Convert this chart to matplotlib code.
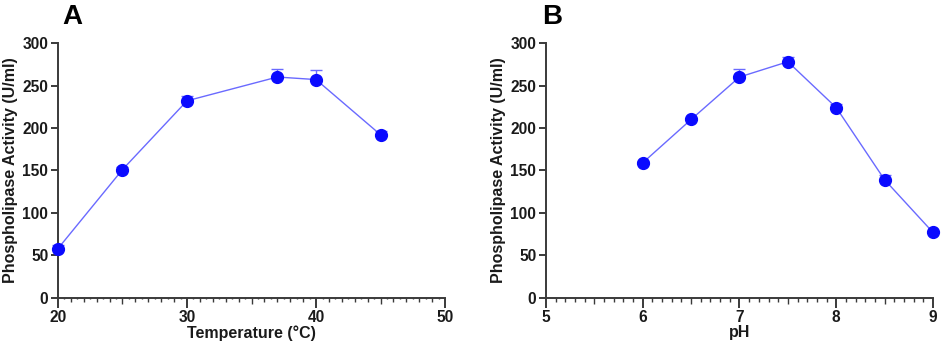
import matplotlib
matplotlib.use("Agg")
import matplotlib.pyplot as plt
from matplotlib.ticker import MultipleLocator
import numpy as np

plt.rcParams['font.family'] = ['Liberation Sans', 'DejaVu Sans']
plt.rcParams['font.weight'] = 'bold'

# Panel A: temperature
temp = [20, 25, 30, 37, 40, 45]
temp_activity = [58, 151, 232, 260, 257, 192]
temp_err = [4, 3, 6, 10, 11, 4]

# Panel B: pH
ph = [6, 6.5, 7, 7.5, 8, 8.5, 9]
ph_activity = [159, 210, 260, 278, 224, 139, 77]
ph_err = [2, 2, 10, 5, 4, 6, 2]

ylabel = "Phospholipase Activity (U/ml)"
yticks = [0, 50, 100, 150, 200, 250, 300]

fig = plt.figure(figsize=(9.41, 3.5), dpi=100)
axA = fig.add_axes([0.0616, 0.149, 0.4114, 0.728])
axB = fig.add_axes([0.5802, 0.149, 0.4113, 0.728])

marker_col = '#0a0aff'
line_col = '#6a6aff'
spine_col = '#3a3a3a'


def draw_ticks(ax, xmin, xmax, major, medium, minor, tiny):
    trans = ax.get_xaxis_transform()
    h_px = ax.bbox.height
    def seg(v, L):
        ax.plot([v, v], [0, -L / h_px], transform=trans, color=spine_col,
                lw=1.0, clip_on=False, solid_capstyle='butt')
    for v in np.arange(xmin, xmax + 1e-9, tiny):
        r = lambda s: abs(round(v / s) * s - v) < 1e-6
        if r(major):
            continue
        elif r(medium):
            seg(v, 6)
        elif r(minor):
            seg(v, 4)
        else:
            seg(v, 1.5)


for ax, x, y, e, lims, xl in [
    (axA, temp, temp_activity, temp_err, (20, 50, 10, 5, 1, 0.5), "Temperature (\u00b0C)"),
    (axB, ph, ph_activity, ph_err, (5, 9, 1, 0.5, 0.1, 0.1), "pH"),
]:
    xmin, xmax, major, medium, minor, tiny = lims
    for s in ['top', 'right']:
        ax.spines[s].set_visible(False)
    for s in ['left', 'bottom']:
        ax.spines[s].set_color(spine_col)
        ax.spines[s].set_linewidth(1.4)
    ax.set_ylim(0, 300)
    ax.set_yticks(yticks)
    ax.set_xlim(xmin, xmax)
    ax.xaxis.set_major_locator(MultipleLocator(major))
    ax.xaxis.set_minor_locator(plt.NullLocator())
    ax.tick_params(axis='both', which='major', length=5, width=1.4, color=spine_col,
                   labelsize=11.2, labelcolor='#1a1a1a', pad=2)
    ax.tick_params(axis='x', which='major', length=7)
    for lab in ax.get_xticklabels() + ax.get_yticklabels():
        lab.set_fontweight('bold')
    draw_ticks(ax, xmin, xmax, major, medium, minor, tiny)

    ax.plot(x, y, color=line_col, lw=1.0, zorder=2, clip_on=False)
    ax.errorbar(x, y, yerr=[np.zeros(len(e)), e], fmt='none', ecolor=line_col,
                elinewidth=1.0, capsize=4, capthick=1.0, zorder=2, clip_on=False)
    ax.plot(x, y, 'o', color=marker_col, ms=8.5, zorder=3, clip_on=False)
    ax.set_xlabel(xl, fontsize=11.5, fontweight='bold', labelpad=0, color='#1a1a1a')
    ax.set_ylabel(ylabel, fontsize=11.5, fontweight='bold', labelpad=3, color='#1a1a1a')

fig.text(0.066, 0.93, "A", fontsize=20, fontweight='bold', ha='left', va='baseline')
fig.text(0.576, 0.93, "B", fontsize=20, fontweight='bold', ha='left', va='baseline')

fig.savefig("out.png", dpi=100)
